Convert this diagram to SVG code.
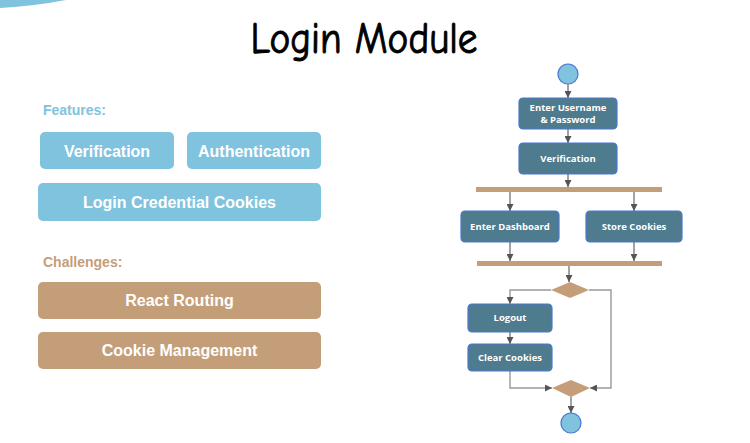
<svg xmlns="http://www.w3.org/2000/svg" width="750" height="443" viewBox="0 0 750 443">
  <defs>
    <marker id="arr" viewBox="0 0 10 10" refX="10" refY="5" markerWidth="7" markerHeight="7" markerUnits="userSpaceOnUse" orient="auto">
      <path d="M0,0 L10,5 L0,10 Z" fill="#555"/>
    </marker>
    <style>
      .lbl { font-family: "Liberation Sans", Arial, sans-serif; font-weight: bold; font-size: 14px; }
      .btn { font-family: "Liberation Sans", Arial, sans-serif; font-weight: bold; font-size: 16px; fill: #fff; text-anchor: middle; }
      .blue { fill: #80c3de; }
      .tan { fill: #c49e78; }
      .act { fill: #4e7b8d; stroke: #4a78d0; stroke-width: 1.2; }
      .at { font-family: "Open Sans", "Liberation Sans", sans-serif; font-weight: bold; font-size: 9.5px; fill: #fff; text-anchor: middle; }
      .bar { fill: #c49e78; }
      .dia { fill: #c49e78; }
      .circ { fill: #80c3de; stroke: #4a78d0; stroke-width: 1.2; }
      .ln { stroke: #666; stroke-width: 1.2; fill: none; }
      .ln2 { stroke: #999; stroke-width: 1.4; fill: none; }
    </style>
  </defs>
  <rect width="750" height="443" fill="#fff"/>
  <path d="M0,0 L0,8 Q35,6 66,0 Z" fill="#80c3de"/>

  <text x="364" y="53" text-anchor="middle" font-family="'Comic Neue','Noto Sans',sans-serif" font-size="44" fill="#000" stroke="#000" stroke-width="1" textLength="227" lengthAdjust="spacingAndGlyphs">Login Module</text>

  <g id="features-label"><text class="lbl" x="43" y="115" fill="#80c3de">Features:</text></g>
  <g id="f-verification">
    <rect class="blue" x="40" y="132" width="134" height="37" rx="5"/>
    <text class="btn" x="107" y="156.5">Verification</text>
  </g>
  <g id="f-authentication">
    <rect class="blue" x="187" y="132" width="134" height="37" rx="5"/>
    <text class="btn" x="254" y="156.5">Authentication</text>
  </g>
  <g id="f-cookies">
    <rect class="blue" x="38" y="183" width="283" height="38" rx="5"/>
    <text class="btn" x="179.5" y="208">Login Credential Cookies</text>
  </g>

  <g id="challenges-label"><text class="lbl" x="43" y="267" fill="#c49e78">Challenges:</text></g>
  <g id="c-routing">
    <rect class="tan" x="38" y="282" width="283" height="37" rx="5"/>
    <text class="btn" x="179.5" y="306">React Routing</text>
  </g>
  <g id="c-cookie">
    <rect class="tan" x="38" y="332" width="283" height="37" rx="5"/>
    <text class="btn" x="179.5" y="356">Cookie Management</text>
  </g>

  <g id="connectors">
    <line class="ln" x1="568" y1="84" x2="568" y2="98" marker-end="url(#arr)"/>
    <line class="ln" x1="568" y1="129" x2="568" y2="143" marker-end="url(#arr)"/>
    <line class="ln" x1="568" y1="174" x2="568" y2="187" marker-end="url(#arr)"/>
    <line class="ln" x1="510" y1="192" x2="510" y2="211" marker-end="url(#arr)"/>
    <line class="ln" x1="634" y1="192" x2="634" y2="211" marker-end="url(#arr)"/>
    <line class="ln" x1="510" y1="242" x2="510" y2="261" marker-end="url(#arr)"/>
    <line class="ln" x1="634" y1="242" x2="634" y2="261" marker-end="url(#arr)"/>
    <line class="ln" x1="569" y1="266" x2="569" y2="282" marker-end="url(#arr)"/>
    <path class="ln2" d="M551,290 L510,290 L510,304" marker-end="url(#arr)"/>
    <path class="ln2" d="M589,290 L611,290 L611,388 L590,388" marker-end="url(#arr)"/>
    <line class="ln" x1="510" y1="332" x2="510" y2="344" marker-end="url(#arr)"/>
    <path class="ln2" d="M510,371 L510,388 L552,388" marker-end="url(#arr)"/>
    <line class="ln" x1="571" y1="397" x2="571" y2="413" marker-end="url(#arr)"/>
  </g>

  <g id="start"><circle class="circ" cx="568" cy="74" r="10"/></g>
  <g id="a-enter">
    <rect class="act" x="519" y="98" width="98" height="31" rx="4"/>
    <text class="at" x="568" y="110.5">Enter Username</text>
    <text class="at" x="568" y="122.5">&amp; Password</text>
  </g>
  <g id="a-verify">
    <rect class="act" x="519" y="143" width="98" height="31" rx="4"/>
    <text class="at" x="568" y="161.5">Verification</text>
  </g>
  <g id="fork"><rect class="bar" x="476" y="187" width="186" height="5"/></g>
  <g id="a-dashboard">
    <rect class="act" x="461" y="211" width="98" height="31" rx="4"/>
    <text class="at" x="510" y="229.5">Enter Dashboard</text>
  </g>
  <g id="a-store">
    <rect class="act" x="586" y="211" width="96" height="31" rx="4"/>
    <text class="at" x="634" y="229.5">Store Cookies</text>
  </g>
  <g id="join"><rect class="bar" x="477" y="261" width="185" height="5"/></g>
  <g id="decision"><polygon class="dia" points="570,282 589,290 570,298 551,290"/></g>
  <g id="a-logout">
    <rect class="act" x="468" y="304" width="84" height="28" rx="4"/>
    <text class="at" x="510" y="321">Logout</text>
  </g>
  <g id="a-clear">
    <rect class="act" x="468" y="344" width="84" height="27" rx="4"/>
    <text class="at" x="510" y="361">Clear Cookies</text>
  </g>
  <g id="merge"><polygon class="dia" points="571,380 590,388 571,397 552,388"/></g>
  <g id="end"><circle class="circ" cx="571" cy="423" r="10"/></g>
</svg>
